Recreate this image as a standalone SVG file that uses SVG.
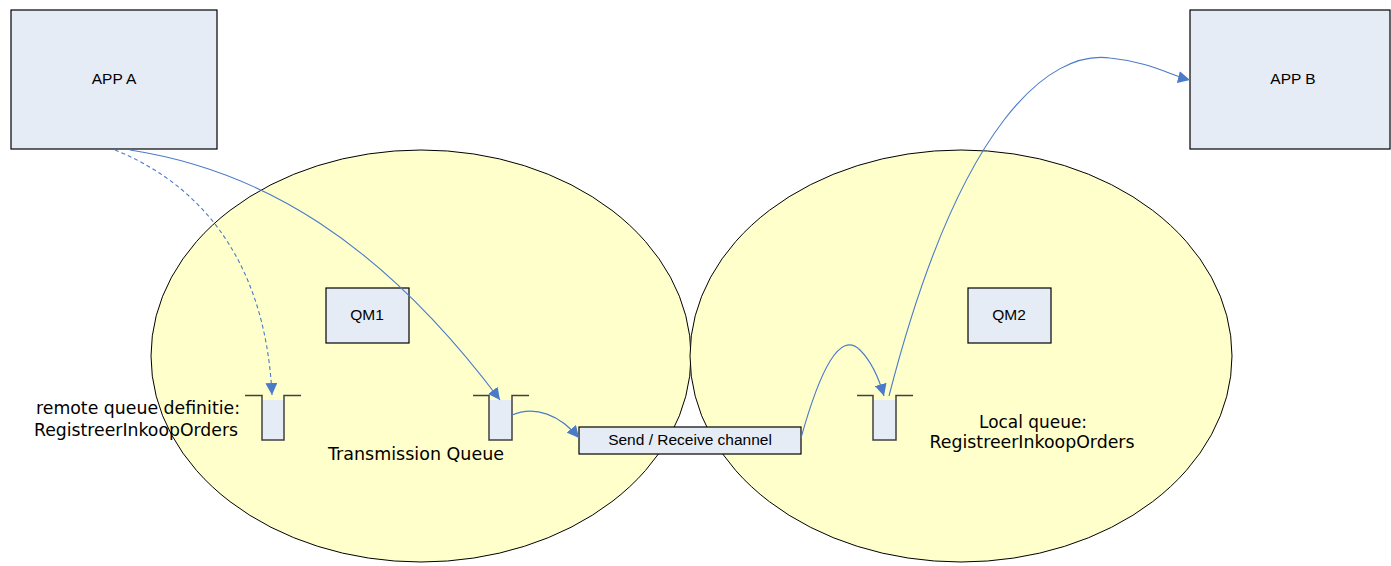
<svg xmlns="http://www.w3.org/2000/svg" width="1391" height="566" viewBox="0 0 1391 566">
<defs>
<style>
.box{fill:#e6ecf6;stroke:#000;stroke-width:1.2}
.ell{fill:#ffffcc;stroke:#000;stroke-width:1}
.lbl{font-family:Arial,"Liberation Sans",sans-serif;font-size:15.5px;fill:#000;text-anchor:middle}
.vt{font-family:"DejaVu Sans",Verdana,sans-serif;font-size:17px;fill:#000;text-anchor:middle}
.con{fill:none;stroke:#4a7bc8;stroke-width:1.1}
.dash{stroke-dasharray:4 3}
.qfill{fill:#e6ecf6;stroke:none}
.qline{fill:none;stroke:#404040;stroke-width:1.5}
</style>
<marker id="arr" viewBox="0 0 10 10" refX="10" refY="5" markerWidth="12" markerHeight="12" markerUnits="userSpaceOnUse" orient="auto">
<path d="M0,0 L10,5 L0,10 z" fill="#4a7bc8"/>
</marker>
</defs>
<rect width="1391" height="566" fill="#fff"/>
<g id="qm1-ellipse"><ellipse class="ell" cx="421" cy="356" rx="270" ry="206"/></g>
<g id="qm2-ellipse"><ellipse class="ell" cx="961" cy="356" rx="271" ry="206"/></g>
<g id="app-a"><rect class="box" x="11" y="10" width="206" height="139"/><text class="lbl" x="114" y="84">APP A</text></g>
<g id="app-b"><rect class="box" x="1190" y="10" width="200" height="139"/><text class="lbl" x="1293" y="84">APP B</text></g>
<g id="qm1"><rect class="box" x="326" y="288" width="83" height="55"/><text class="lbl" x="367" y="320">QM1</text></g>
<g id="qm2"><rect class="box" x="968" y="288" width="83" height="55"/><text class="lbl" x="1009" y="320">QM2</text></g>
<g id="remote-queue">
<rect class="qfill" x="262" y="400" width="22" height="40"/>
<path class="qline" d="M245,395.5 H262 V440 H284 V395.5 H301"/>
<text class="vt" x="138" y="414" textLength="204" lengthAdjust="spacingAndGlyphs">remote queue definitie:</text>
<text class="vt" x="136" y="436" textLength="204" lengthAdjust="spacingAndGlyphs">RegistreerInkoopOrders</text>
</g>
<g id="transmission-queue">
<rect class="qfill" x="489" y="400" width="23" height="40"/>
<path class="qline" d="M473,395.5 H489 V440 H512 V395.5 H529"/>
<text class="vt" x="416" y="460" textLength="176" lengthAdjust="spacingAndGlyphs">Transmission Queue</text>
</g>
<g id="channel"><rect class="box" x="579" y="427" width="222" height="27"/><text class="lbl" x="690" y="445">Send / Receive channel</text></g>
<g id="local-queue">
<rect class="qfill" x="873" y="400" width="23" height="40"/>
<path class="qline" d="M857,395.5 H873 V440 H896 V395.5 H913"/>
<text class="vt" x="1033" y="428" textLength="108" lengthAdjust="spacingAndGlyphs">Local queue:</text>
<text class="vt" x="1032" y="448" textLength="205" lengthAdjust="spacingAndGlyphs">RegistreerInkoopOrders</text>
</g>
<g id="connectors">
<path class="con dash" d="M115,150 C190,180 265,250 272,395" marker-end="url(#arr)"/>
<path class="con" d="M130,150 C260,170 380,240 500,400" marker-end="url(#arr)"/>
<path class="con" d="M512,415 C535,405 560,415 579,438" marker-end="url(#arr)"/>
<path class="con" d="M801,438 C820,370 840,330 860,350 C870,360 878,375 884,396" marker-end="url(#arr)"/>
<path class="con" d="M889,396 C960,120 1050,50 1110,58 C1150,62 1170,75 1190,80" marker-end="url(#arr)"/>
</g>
</svg>
